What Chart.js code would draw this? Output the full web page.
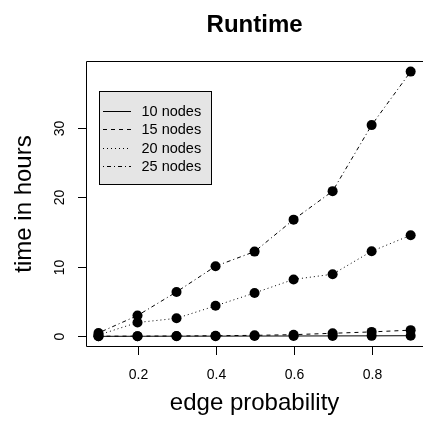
<!DOCTYPE html>
<html>
<head>
<meta charset="utf-8">
<script src="https://cdn.jsdelivr.net/npm/chart.js@4/dist/chart.umd.min.js"></script>
<style>
    html, body { margin: 0; padding: 0; background: #fff; }
    #wrap { width: 426px; height: 421px; }
</style>
</head>
<body>
<div id="wrap"><canvas id="runtimeChart" width="426" height="421"></canvas></div>
<script>
// 数据
const edgeProb = [0.1, 0.2, 0.3, 0.4, 0.5, 0.6, 0.7, 0.8, 0.9];
const nodes10 = [0.01, 0.02, 0.03, 0.04, 0.05, 0.06, 0.07, 0.08, 0.1];
const nodes15 = [0.03, 0.04, 0.06, 0.1, 0.15, 0.25, 0.45, 0.65, 0.9];
const nodes20 = [0.2, 2.0, 2.6, 4.4, 6.25, 8.2, 8.95, 12.25, 14.55];
const nodes25 = [0.5, 3.0, 6.4, 10.1, 12.2, 16.8, 20.9, 30.4, 38.1];
const seriesLabels = ['10 nodes', '15 nodes', '20 nodes', '25 nodes'];
const xTicks = [0.2, 0.4, 0.6, 0.8];
const yTicks = [0, 10, 20, 30];

const FONT = '"Liberation Sans", Arial, Helvetica, sans-serif';
// R 风格线型
const dashes = [[], [4, 4], [1, 3], [1, 3, 4, 3]];

function makeSet(label, values, i) {
    return {
        label: label,
        data: edgeProb.map((x, k) => ({ x: x, y: values[k] })),
        borderColor: '#000',
        borderWidth: 1,
        borderDash: dashes[i],
        pointRadius: 5,
        pointBackgroundColor: '#000',
        pointBorderWidth: 0,
        tension: 0,
        fill: false
    };
}

// 画坐标轴、边框、标题和图例
const rStyle = {
    id: 'rStyle',
    afterDraw(chart) {
        const ctx = chart.ctx;
        const area = chart.chartArea;
        const xs = chart.scales.x;
        const ys = chart.scales.y;
        ctx.save();
        ctx.strokeStyle = '#000';
        ctx.fillStyle = '#000';
        ctx.lineWidth = 1;

        // 边框（右边在画布外）
        ctx.beginPath();
        ctx.moveTo(area.right + 2, area.top + 0.5);
        ctx.lineTo(area.left + 0.5, area.top + 0.5);
        ctx.lineTo(area.left + 0.5, area.bottom - 0.5);
        ctx.lineTo(area.right + 2, area.bottom - 0.5);
        ctx.stroke();

        // x 轴刻度
        ctx.font = '14px ' + FONT;
        ctx.textAlign = 'center';
        ctx.textBaseline = 'middle';
        xTicks.forEach(v => {
            const px = Math.round(xs.getPixelForValue(v)) + 0.5;
            ctx.beginPath();
            ctx.moveTo(px, area.bottom);
            ctx.lineTo(px, area.bottom + 8);
            ctx.stroke();
            ctx.fillText(v.toFixed(1), px, area.bottom + 28);
        });

        // y 轴刻度（竖排文字）
        yTicks.forEach(v => {
            const py = Math.round(ys.getPixelForValue(v)) + 0.5;
            ctx.beginPath();
            ctx.moveTo(area.left, py);
            ctx.lineTo(area.left - 8, py);
            ctx.stroke();
            ctx.save();
            ctx.translate(area.left - 26, py);
            ctx.rotate(-Math.PI / 2);
            ctx.fillText(String(v), 0, 0);
            ctx.restore();
        });

        // 轴标题
        const midX = (xs.getPixelForValue(0.068) + xs.getPixelForValue(0.932)) / 2;
        ctx.font = '24px ' + FONT;
        ctx.textBaseline = 'alphabetic';
        ctx.fillText('edge probability', midX, area.bottom + 63);
        ctx.save();
        ctx.translate(31, (area.top + area.bottom) / 2);
        ctx.rotate(-Math.PI / 2);
        ctx.fillText('time in hours', 0, 0);
        ctx.restore();

        // 主标题
        ctx.font = 'bold 24px ' + FONT;
        ctx.fillText('Runtime', midX, 32);

        // 图例
        const bx = 99.5, by = 91.5, bw = 112, bh = 93;
        ctx.fillStyle = '#e5e5e5';
        ctx.fillRect(bx, by, bw, bh);
        ctx.strokeRect(bx, by, bw, bh);
        ctx.fillStyle = '#000';
        ctx.font = '14.5px ' + FONT;
        ctx.textAlign = 'left';
        ctx.textBaseline = 'middle';
        chart.data.datasets.forEach((ds, i) => {
            const ry = Math.round(by + 19.5 + i * 18.3) + 0.5;
            ctx.save();
            ctx.setLineDash(ds.borderDash);
            ctx.beginPath();
            ctx.moveTo(103, ry);
            ctx.lineTo(131, ry);
            ctx.stroke();
            ctx.restore();
            ctx.fillText(ds.label, 141.5, ry);
        });
        ctx.restore();
    }
};

new Chart(document.getElementById('runtimeChart'), {
    type: 'line',
    data: {
        datasets: [
            makeSet(seriesLabels[0], nodes10, 0),
            makeSet(seriesLabels[1], nodes15, 1),
            makeSet(seriesLabels[2], nodes20, 2),
            makeSet(seriesLabels[3], nodes25, 3)
        ]
    },
    options: {
        responsive: false,
        animation: false,
        layout: { padding: { left: 86, right: 0, top: 61, bottom: 74 } },
        plugins: {
            legend: { display: false },
            tooltip: { enabled: false },
            title: { display: false }
        },
        scales: {
            x: { type: 'linear', min: 0.068, max: 0.9265, display: false },
            y: { type: 'linear', min: -1.524, max: 39.624, display: false }
        }
    },
    plugins: [rStyle]
});
</script>
</body>
</html>
